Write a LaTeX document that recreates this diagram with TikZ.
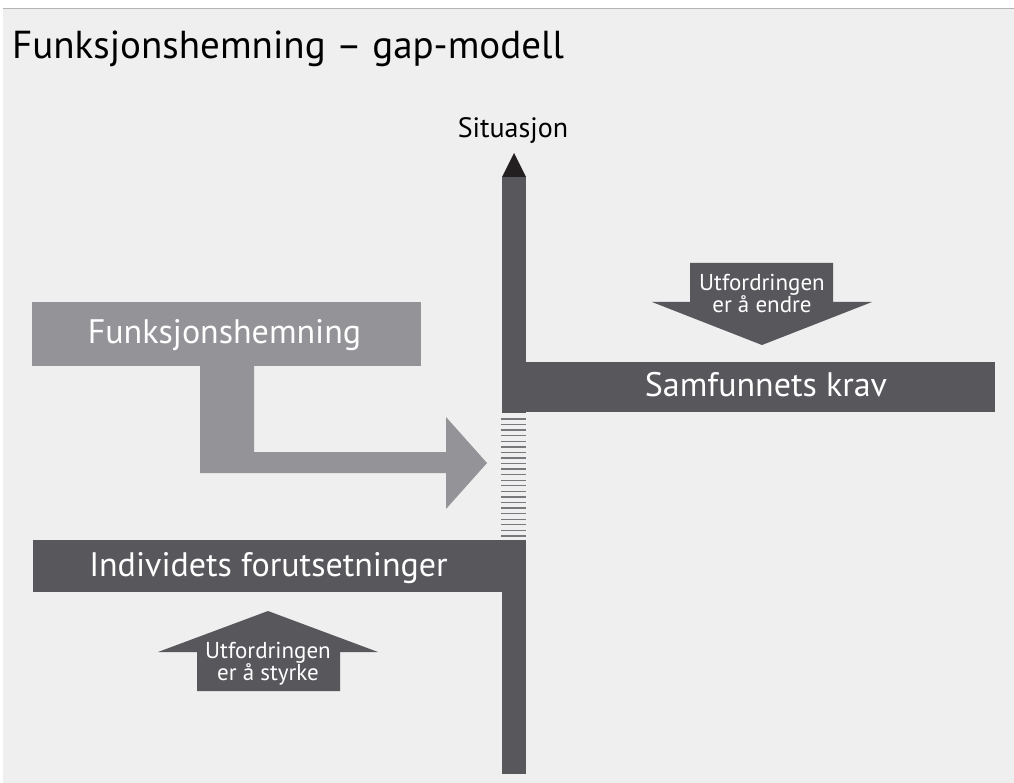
\documentclass[tikz,border=0pt]{standalone}
\usepackage{fontspec}
\setmainfont{PT Sans}
\usepackage{tikz}
\usetikzlibrary{positioning}

\definecolor{bggray}{HTML}{EFEFEF}
\definecolor{rulegray}{HTML}{B4B4B4}
\definecolor{bardark}{HTML}{58575C}
\definecolor{barlight}{HTML}{949398}
\definecolor{tipdark}{HTML}{231F20}

\tikzset{
  bartext/.style={anchor=base, text=white, inner sep=0pt, font=\fontsize{34}{38}\selectfont},
  challenge/.style={text=white, align=center, inner sep=0pt, font=\fontsize{23}{22}\selectfont}
}

\begin{document}
\begin{tikzpicture}[x=1pt,y=-1pt]
\useasboundingbox (0,0) rectangle (1014,783);
\fill[bggray] (3,9) rectangle (1014,783);
\draw[rulegray, line width=1.2pt] (3,8.5) -- (1014,8.5);
\node[anchor=base west, inner sep=0pt, font=\fontsize{39}{42}\selectfont] (title) at (12,59) {Funksjonshemning -- gap-modell};
% situasjon axis
\node[anchor=base, inner sep=0pt, font=\fontsize{28}{30}\selectfont] (situasjon) at (513,138) {Situasjon};
\fill[bardark] (502,177) rectangle (526,413);
\fill[bardark] (502,540) rectangle (526,774);
\fill[tipdark] (502,177) -- (514,153) -- (526,177) -- cycle;
\foreach \i in {0,...,21}
  \draw[bardark!80, line width=1.3pt] (501,419+5.57*\i) -- (526,419+5.57*\i);
% the two demands
\fill[bardark] (526,362) rectangle (995,412);
\node[bartext] (krav) at (766,396) {Samfunnets krav};
\fill[bardark] (33,540) rectangle (526,592);
\node[bartext] (individ) at (268.5,576) {Individets forutsetninger};
% funksjonshemning as the gap
\fill[barlight] (32,302) rectangle (421,366);
\node[bartext] (funksjon) at (224.5,343) {Funksjonshemning};
\fill[barlight] (200,366) -- (254,366) -- (254,452) -- (446,452) -- (446,417) -- (487,463)
  -- (446,509) -- (446,473) -- (200,473) -- cycle;
% challenges
\fill[bardark] (690,263) -- (833,263) -- (833,302) -- (872,302) -- (762,345) -- (652,302) -- (690,302) -- cycle;
\node[challenge] (endre) at (762,293) {Utfordringen\\er å endre};
\fill[bardark] (268,611) -- (378,652) -- (340,652) -- (340,691) -- (197,691) -- (197,652) -- (158,652) -- cycle;
\node[challenge] (styrke) at (268,664) {Utfordringen\\er å styrke};
\end{tikzpicture}
\end{document}
